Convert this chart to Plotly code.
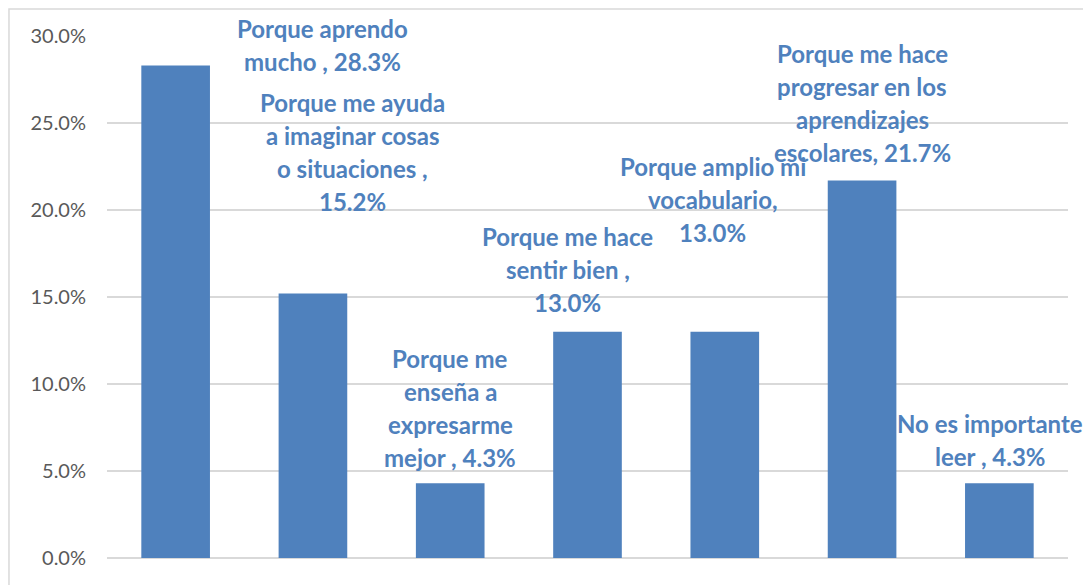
import plotly.graph_objects as go

# data
categories = ["Porque aprendo mucho", "Porque me ayuda a imaginar cosas o situaciones",
              "Porque me enseña a expresarme mejor", "Porque me hace sentir bien",
              "Porque amplio mi vocabulario", "Porque me hace progresar en los aprendizajes escolares",
              "No es importante leer"]
values = [28.3, 15.2, 4.3, 13.0, 13.0, 21.7, 4.3]
label_lines = [
    ["Porque aprendo", "mucho , 28.3%"],
    ["Porque me ayuda", "a imaginar cosas", "o situaciones ,", "15.2%"],
    ["Porque me", "enseña a", "expresarme", "mejor , 4.3%"],
    ["Porque me hace", "sentir bien ,", "13.0%"],
    ["Porque amplio mi", "vocabulario,", "13.0%"],
    ["Porque me hace", "progresar en los", "aprendizajes", "escolares, 21.7%"],
    ["No es importante", "leer , 4.3%"],
]
# where each label block sits relative to its bar top (px)
label_shift = [(147, 21), (40, 142), (0, 75), (-20, 62), (-12, 132), (0, 77), (-9, 43)]

blue = '#4f81bd'
line_gap = 33

fig = go.Figure()
fig.add_trace(go.Bar(x=list(range(len(values))), y=values, marker_color=blue,
                     marker_line_width=0, hovertext=categories, name=""))

for i, lines in enumerate(label_lines):
    dx, dy = label_shift[i]
    n = len(lines)
    for k, txt in enumerate(lines):
        off = dy + ((n - 1) / 2 - k) * line_gap
        fig.add_annotation(x=i, y=values[i], text="<b>" + txt + "</b>", showarrow=False,
                           xshift=dx, yshift=off, xanchor='center', yanchor='middle',
                           font=dict(family="Lato", size=24, color=blue))

# light border around the chart
fig.add_shape(type='rect', xref='paper', yref='paper', x0=-0.102, x1=1.05, y0=-0.08, y1=1.0517,
              line=dict(color='#d9d9d9', width=1.5), fillcolor='rgba(0,0,0,0)', layer='below')

fig.update_layout(
    width=1083, height=577,
    margin=dict(l=99, r=23, t=28, b=27),
    plot_bgcolor='white', paper_bgcolor='white',
    bargap=0.5, showlegend=False,
    font=dict(family="Lato"),
)
fig.update_xaxes(showticklabels=False, showgrid=False, zeroline=False,
                 range=[-0.5, len(values) - 0.5], fixedrange=True)
fig.update_yaxes(range=[0, 30], dtick=5, tickformat='.1f', ticksuffix='%',
                 showgrid=True, gridcolor='#d9d9d9', gridwidth=1.5,
                 zeroline=True, zerolinecolor='#d9d9d9', zerolinewidth=1.5,
                 tickfont=dict(family="Lato", size=20, color='#595959'),
                 ticklabelstandoff=20)

fig.write_html("out.html")
